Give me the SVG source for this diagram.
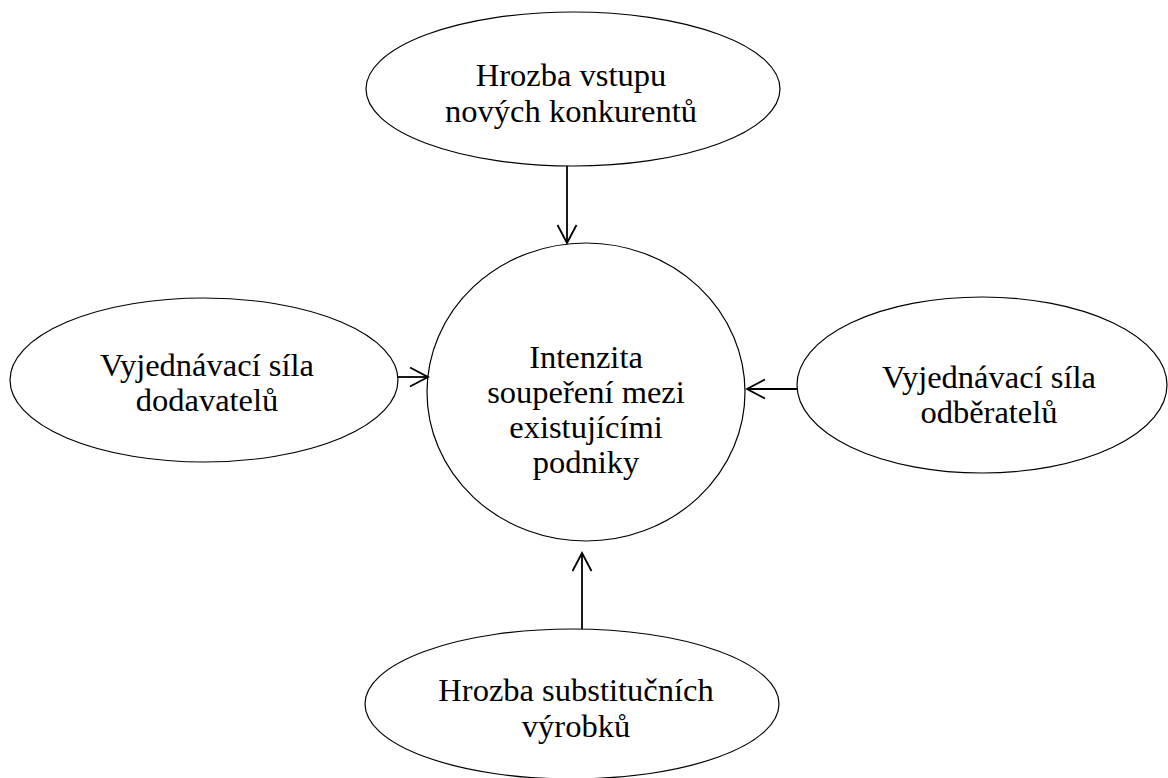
<svg xmlns="http://www.w3.org/2000/svg" width="1168" height="778" viewBox="0 0 1168 778">
<defs>
<style>
.shape{fill:#fff;stroke:#000;stroke-width:1.2}
.lbl{font-family:"Liberation Serif","Times New Roman",serif;font-size:32.5px;fill:#000;text-anchor:middle}
.conn{stroke:#000;stroke-width:1.8;fill:none}
</style>
<marker id="arr" markerUnits="userSpaceOnUse" markerWidth="22" markerHeight="24" refX="19" refY="10.5" orient="auto" viewBox="0 0 22 24">
<path d="M1,1 L19,10.5 L1,20" fill="none" stroke="#000" stroke-width="1.8"/>
</marker>
</defs>
<rect width="1168" height="778" fill="#fff"/>
<g id="top">
<ellipse class="shape" cx="573" cy="89" rx="207" ry="77"/>
<text class="lbl" x="571" y="86">Hrozba vstupu</text>
<text class="lbl" x="571" y="122">nových konkurentů</text>
</g>
<g id="center">
<ellipse class="shape" cx="586" cy="392" rx="159" ry="149"/>
<text class="lbl" x="586" y="368">Intenzita</text>
<text class="lbl" x="586" y="403">soupeření mezi</text>
<text class="lbl" x="586" y="438">existujícími</text>
<text class="lbl" x="586" y="473">podniky</text>
</g>
<g id="left">
<ellipse class="shape" cx="204" cy="380" rx="194" ry="82"/>
<text class="lbl" x="207" y="376">Vyjednávací síla</text>
<text class="lbl" x="207" y="411">dodavatelů</text>
</g>
<g id="right">
<ellipse class="shape" cx="982" cy="385" rx="185" ry="88"/>
<text class="lbl" x="989" y="388">Vyjednávací síla</text>
<text class="lbl" x="989" y="423">odběratelů</text>
</g>
<g id="bottom">
<ellipse class="shape" cx="572" cy="704" rx="207" ry="75"/>
<text class="lbl" x="576" y="701">Hrozba substitučních</text>
<text class="lbl" x="576" y="737">výrobků</text>
</g>
<g id="connectors">
<line class="conn" x1="567" y1="166" x2="567" y2="243" marker-end="url(#arr)"/>
<line class="conn" x1="398" y1="377" x2="428" y2="377" marker-end="url(#arr)"/>
<line class="conn" x1="797" y1="389" x2="747" y2="389" marker-end="url(#arr)"/>
<line class="conn" x1="582" y1="629" x2="582" y2="553" marker-end="url(#arr)"/>
</g>
</svg>
